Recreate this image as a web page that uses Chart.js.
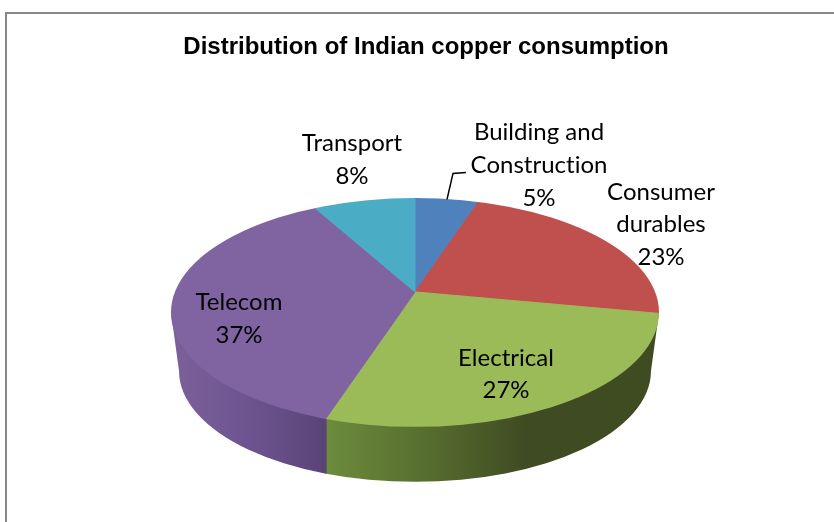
<!DOCTYPE html>
<html>
<head>
<meta charset="utf-8">
<title>Distribution of Indian copper consumption</title>
<script src="https://cdn.jsdelivr.net/npm/chart.js@4"></script>
<style>
    body { margin: 0; background: #fff; }
    #marco { position: absolute; left: 5px; top: 12px; right: 0; bottom: 0; border-top: 2px solid #888; border-left: 2px solid #888; }
    #grafica { position: absolute; left: 0; top: 0; }
</style>
</head>
<body>
<div id="marco"></div>
<canvas id="grafica" width="834" height="522"></canvas>
<script>
// Datos
var chartTitle = 'Distribution of Indian copper consumption';
var categories = [['Building and', 'Construction'], ['Consumer', 'durables'], ['Electrical'], ['Telecom'], ['Transport']];
var shares = [5, 23, 27, 37, 8];
var topColors = ['#4f81bd', '#c0504d', '#9bbb59', '#8064a2', '#4bacc6'];

// Apariencia del pastel 3D (relativa al radio)
var squash = 0.469;      // alto / ancho de la cara superior
var perspective = 0.179; // cuanto se desplaza el vertice hacia el fondo
var pieShiftX = -11;     // el titulo no esta centrado sobre el pastel
var wallDepth = 0.241;
var wallShrink = 0.967;

var wallStops = [
    [[0, '#7c609c'], [0.5, '#6d5490'], [1, '#5a4476']],   // Telecom
    [[0, '#6d8c3c'], [0.3, '#566e2f'], [0.6, '#3f4b22'], [1, '#3f4b21']] // Electrical
];

// Etiquetas: desplazamiento desde el centro del pastel
var labelSpots = [
    { dx: 124, dy: -180 },
    { dx: 246, dy: -120.5 },
    { dx: 91, dy: 45.5 },
    { dx: -176, dy: -10 },
    { dx: -63, dy: -169 }
];

function proyectar(angle, R) {
    var ry = R * squash;
    var ax = R * Math.sqrt(1 - perspective * perspective);
    var by = ry * (1 - perspective * perspective);
    var w = 1 - perspective * Math.sin(angle);
    return { x: ax * Math.cos(angle) / w, y: by * Math.sin(angle) / w };
}

function dibujarPared(ctx, arcs, cx, cy, R) {
    var ry = R * squash;
    var cy2 = cy + R * wallDepth;
    var rx2 = R * wallShrink;
    var ry2 = ry * wallShrink;
    ctx.save();
    ctx.beginPath();
    ctx.moveTo(cx - R, cy);
    ctx.lineTo(cx - rx2, cy2);
    ctx.ellipse(cx, cy2, rx2, ry2, 0, Math.PI, 0, true);
    ctx.lineTo(cx + R, cy);
    ctx.closePath();
    ctx.clip();
    arcs.forEach(function (arc, i) {
        var s = Math.max(arc.startAngle, 0);
        var e = Math.min(arc.endAngle, Math.PI);
        if (e <= s) return;
        var x1 = s === 0 ? cx + R : cx + proyectar(s, R).x;
        var x0 = e === Math.PI ? cx - R : cx + proyectar(e, R).x;
        var stops = i === 3 ? wallStops[0] : wallStops[1];
        var g = ctx.createLinearGradient(x0, 0, x1, 0);
        stops.forEach(function (st) { g.addColorStop(st[0], st[1]); });
        ctx.fillStyle = i === 1 ? '#6e2a28' : g;
        ctx.fillRect(x0, cy - 10, x1 - x0 + 1, R);
    });
    ctx.restore();
}

function dibujarCara(ctx, arcs, cx, cy, R) {
    var ry = R * squash;
    var apexY = cy - perspective * ry;
    ctx.save();
    ctx.beginPath();
    ctx.ellipse(cx, cy, R, ry, 0, 0, Math.PI * 2);
    ctx.clip();
    arcs.forEach(function (arc) {
        // el arco se dibuja desde el vertice, y el recorte le da el borde eliptico
        var saved = { x: arc.x, y: arc.y, startAngle: arc.startAngle, endAngle: arc.endAngle, circumference: arc.circumference, outerRadius: arc.outerRadius };
        var p1 = proyectar(arc.startAngle, R);
        var p2 = proyectar(arc.endAngle, R);
        var a1 = Math.atan2(p1.y + 0, p1.x);
        var a2 = Math.atan2(p2.y + 0, p2.x);
        while (a2 <= a1) a2 += Math.PI * 2;
        arc.x = cx;
        arc.y = apexY;
        arc.startAngle = a1;
        arc.endAngle = a2;
        arc.circumference = a2 - a1;
        arc.outerRadius = R * 1.5;
        arc.draw(ctx);
        Object.assign(arc, saved);
    });
    ctx.restore();
}

function dibujarEtiquetas(ctx, cx, cy) {
    var total = shares.reduce(function (a, b) { return a + b; }, 0);
    ctx.save();
    ctx.fillStyle = '#000';
    ctx.font = '24px Lato';
    ctx.letterSpacing = '0.01px';
    ctx.textAlign = 'center';
    ctx.textBaseline = 'middle';
    categories.forEach(function (lines, i) {
        var spot = labelSpots[i];
        lines.forEach(function (line, n) {
            ctx.fillText(line, cx + spot.dx, cy + spot.dy + n * 32.8);
        });
        var pct = Math.round(shares[i] / total * 100) + '%';
        ctx.fillText(pct, cx + spot.dx, cy + spot.dy + lines.length * 32.8);
    });
    // linea guia de Building and Construction
    ctx.strokeStyle = '#000';
    ctx.lineWidth = 1.5;
    ctx.beginPath();
    ctx.moveTo(cx + 32, cy - 113);
    ctx.lineTo(cx + 38, cy - 139);
    ctx.lineTo(cx + 51, cy - 140);
    ctx.stroke();
    ctx.restore();
}

var pastel3d = {
    id: 'pastel3d',
    beforeDatasetsDraw: function (chart) {
        var ctx = chart.ctx;
        var arcs = chart.getDatasetMeta(0).data;
        var cx = arcs[0].x + pieShiftX;
        var cy = arcs[0].y;
        var R = arcs[0].outerRadius;
        dibujarPared(ctx, arcs, cx, cy, R);
        dibujarCara(ctx, arcs, cx, cy, R);
        dibujarEtiquetas(ctx, cx, cy);
        return false; // ya esta dibujado
    }
};

new Chart(document.getElementById('grafica').getContext('2d'), {
    type: 'pie',
    data: {
        labels: categories,
        datasets: [{
            data: shares,
            backgroundColor: topColors,
            borderColor: topColors,
            borderWidth: 1,
            radius: 244
        }]
    },
    options: {
        responsive: false,
        animation: false,
        events: [],
        layout: { padding: { left: 18, right: 0, top: 0, bottom: 0 } },
        plugins: {
            legend: { display: false },
            tooltip: { enabled: false },
            title: {
                display: true,
                text: chartTitle,
                color: '#000',
                font: { family: '"Liberation Sans"', size: 24, weight: 'bold', lineHeight: 1.2 },
                padding: { top: 33, bottom: 41 }
            }
        }
    },
    plugins: [pastel3d]
});
</script>
</body>
</html>
